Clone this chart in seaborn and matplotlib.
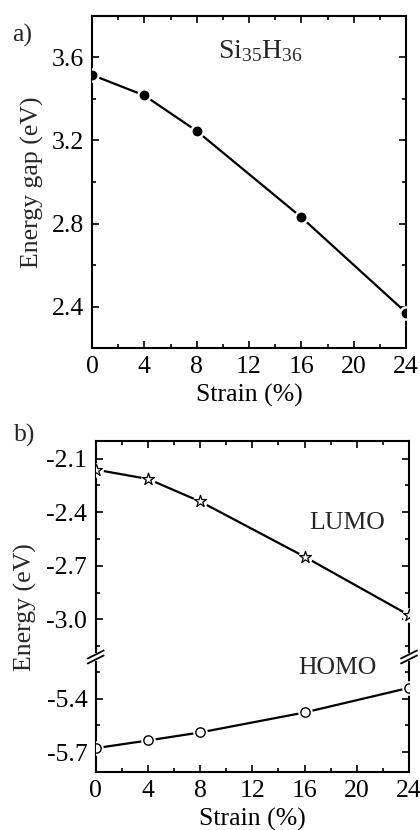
import numpy as np
import pandas as pd
import matplotlib
matplotlib.use("Agg")
import matplotlib.pyplot as plt
from matplotlib.ticker import MultipleLocator
from matplotlib.lines import Line2D
import seaborn as sns

# ---------------- data ----------------
strain = [0, 4, 8, 16, 24]
gap = [3.516, 3.417, 3.246, 2.830, 2.371]
lumo = [-2.162, -2.214, -2.340, -2.649, -2.976]
homo = [-5.678, -5.635, -5.590, -5.478, -5.340]
xticks = [0, 4, 8, 12, 16, 20, 24]

sns.set_theme(style="ticks")
plt.rcParams['font.family'] = ['Liberation Serif', 'DejaVu Serif']
plt.rcParams['mathtext.fontset'] = 'custom'
plt.rcParams['mathtext.rm'] = 'Liberation Serif'
plt.rcParams['mathtext.it'] = 'Liberation Serif'
FS = 18.5

W, H = 420, 830
fig = plt.figure(figsize=(W / 100, H / 100), dpi=100)

def fx(px):
    return px / W

def fy(py):
    return 1 - py / H

def style(ax, major_y, minor_y, top=True, bottom=True):
    ax.set_xlim(0, 24)
    ax.xaxis.set_major_locator(MultipleLocator(4))
    ax.xaxis.set_minor_locator(MultipleLocator(2))
    ax.yaxis.set_major_locator(MultipleLocator(major_y))
    ax.yaxis.set_minor_locator(MultipleLocator(minor_y))
    ax.tick_params(which='both', direction='in', top=top, right=True,
                   bottom=bottom, left=True, labelsize=FS, width=1.2,
                   color='black', labelcolor='black')
    ax.tick_params(which='major', length=5, pad=6)
    ax.tick_params(which='minor', length=3)
    for s in ax.spines.values():
        s.set_linewidth(1.5)
        s.set_color('black')
    ax.set_facecolor('white')

# ---------------- panel a ----------------
axa = fig.add_axes([fx(92), fy(348), fx(406) - fx(92), fy(16) - fy(348)])
dfa = pd.DataFrame({'strain': strain, 'gap': gap})
sns.lineplot(data=dfa, x='strain', y='gap', ax=axa, color='black', lw=1.6)
sns.scatterplot(data=dfa, x='strain', y='gap', ax=axa, color='white', s=110,
                linewidth=0, zorder=3)
sns.scatterplot(data=dfa, x='strain', y='gap', ax=axa, color='black', s=50,
                linewidth=0, zorder=4)
axa.set_ylim(2.2, 3.8)
style(axa, 0.4, 0.2)
axa.set_yticks([2.4, 2.8, 3.2, 3.6])
axa.set_xticks(xticks)
axa.set_xticklabels([str(v) for v in xticks])
axa.set_xlabel('Strain (%)', fontsize=FS, labelpad=4, color='black')
axa.set_ylabel('')
fig.text(fx(32), fy(182), 'Energy gap (eV)', rotation=90, fontsize=FS,
         ha='center', va='center')
fig.text(fx(260), fy(51), r'$\mathrm{Si_{35}H_{36}}$', fontsize=20,
         ha='center', va='center')
fig.text(fx(12), fy(35), 'a)', fontsize=FS, ha='left', va='center')

# ---------------- panel b (broken axis) ----------------
L, R = 95.7, 409
T, B, BR = 440.7, 771.7, 657
axu = fig.add_axes([fx(L), fy(BR), fx(R) - fx(L), fy(T) - fy(BR)])
axl = fig.add_axes([fx(L), fy(B), fx(R) - fx(L), fy(BR) - fy(B)])

dfb = pd.DataFrame({'strain': strain, 'lumo': lumo, 'homo': homo})
sns.lineplot(data=dfb, x='strain', y='lumo', ax=axu, color='black', lw=1.6)
sns.scatterplot(data=dfb, x='strain', y='lumo', ax=axu, color='white', s=110,
                marker='o', linewidth=0, zorder=3)
sns.scatterplot(data=dfb, x='strain', y='lumo', ax=axu, color='white', s=80,
                marker='*', edgecolor='black', linewidth=0.9, zorder=4)
sns.lineplot(data=dfb, x='strain', y='homo', ax=axl, color='black', lw=1.6)
sns.scatterplot(data=dfb, x='strain', y='homo', ax=axl, color='white', s=110,
                marker='o', linewidth=0, zorder=3)
sns.scatterplot(data=dfb, x='strain', y='homo', ax=axl, color='white', s=45,
                marker='o', edgecolor='black', linewidth=1.0, zorder=4)

axu.set_ylim(-3.21, -2.0)
axl.set_ylim(-5.81, -5.167)
style(axu, 0.3, 0.15, top=True, bottom=False)
style(axl, 0.3, 0.15, top=False, bottom=True)
axu.set_yticks([-3.0, -2.7, -2.4, -2.1])
axu.set_yticklabels(['-3.0', '-2.7', '-2.4', '-2.1'])
axl.set_yticks([-5.7, -5.4])
axl.set_yticklabels(['-5.7', '-5.4'])
axu.spines['bottom'].set_visible(False)
axl.spines['top'].set_visible(False)
axu.tick_params(labelbottom=False)
axu.set_xlabel('')
axu.set_ylabel('')
axl.set_ylabel('')
axl.set_xticks(xticks)
axl.set_xticklabels([str(v) for v in xticks])
axl.set_xlabel('Strain (%)', fontsize=FS, labelpad=4, color='black')

fig.text(fx(347), fy(523), 'LUMO', fontsize=FS, ha='center', va='center')
fig.text(fx(337), fy(668), 'HOMO', fontsize=FS, ha='center', va='center')
fig.text(fx(25), fy(607), 'Energy (eV)', rotation=90, fontsize=FS,
         ha='center', va='center')
fig.text(fx(14), fy(435), 'b)', fontsize=FS, ha='left', va='center')

# break marks
for xc in (L, R):
    fig.add_artist(Line2D([fx(xc), fx(xc)], [fy(BR - 2), fy(BR + 2)],
                          color='white', lw=3, zorder=10))
    for d in (-2.5, 2.5):
        fig.add_artist(Line2D([fx(xc - 8), fx(xc + 8)],
                              [fy(BR + 4 + d), fy(BR - 4 + d)],
                              color='black', lw=1.3, zorder=11))

fig.savefig('out.png', dpi=100, facecolor='white')
